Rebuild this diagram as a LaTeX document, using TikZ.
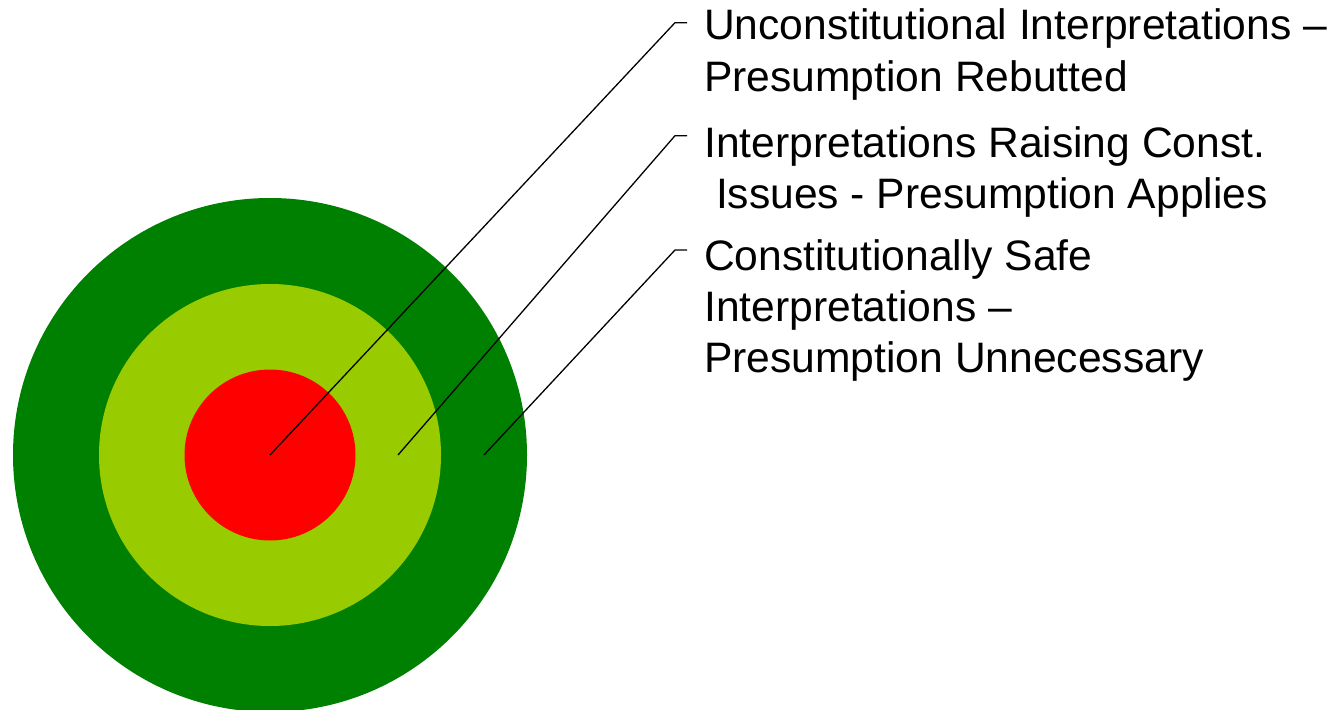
\documentclass[tikz,border=0pt]{standalone}
\usepackage{fontspec}
\setmainfont{Liberation Sans}
\usetikzlibrary{positioning,calc}
\definecolor{bullred}{RGB}{255,0,0}
\definecolor{limegreen}{RGB}{153,204,0}
\definecolor{ringgreen}{RGB}{0,128,0}
\tikzset{
  ring/.style={circle,draw=none,inner sep=0pt,minimum size=#1},
  lbl/.style={anchor=base west,inner sep=0pt,align=left,
              font=\fontsize{42.6}{51.4}\selectfont},
  lead/.style={draw=black,line width=1.3pt},
}

\begin{document}
\begin{tikzpicture}[x=1pt,y=-1pt]
  \useasboundingbox (0,0) rectangle (1335,709);
  % target rings
  \node[ring=514pt,fill=ringgreen] (outer) at (270,455) {};
  \node[ring=342pt,fill=limegreen] (middle) at (270,455) {};
  \node[ring=171pt,fill=bullred] (inner) at (270,455) {};
  \coordinate (p1) at (inner.center);
  \coordinate (p2) at ($(middle.center)+(128,0)$);
  \coordinate (p3) at ($(outer.center)+(214,0)$);
  % labels
  \node[lbl] (t1) at (704,40) {Unconstitutional Interpretations –};
  \node[lbl,below=0pt of t1.base west,anchor=base west,yshift=-51.4pt] (t1b) {Presumption Rebutted};
  \node[lbl] (t2) at (704,157) {Interpretations Raising Const.};
  \node[lbl,below=0pt of t2.base west,anchor=base west,yshift=-51.4pt] (t2b) {~Issues - Presumption Applies};
  \node[lbl] (t3) at (704,270) {Constitutionally Safe};
  \node[lbl,below=0pt of t3.base west,anchor=base west,yshift=-51.4pt] (t3b) {Interpretations –};
  \node[lbl,below=0pt of t3b.base west,anchor=base west,yshift=-51.4pt] (t3c) {Presumption Unnecessary};
  % leader lines
  \coordinate (e1) at (675,22.7);
  \coordinate (e2) at (675,135.7);
  \coordinate (e3) at (675,250);
  \draw[lead] (p1) -- (e1) -- ++(12,0);
  \draw[lead] (p2) -- (e2) -- ++(12,0);
  \draw[lead] (p3) -- (e3) -- ++(12,0);
\end{tikzpicture}
\end{document}
